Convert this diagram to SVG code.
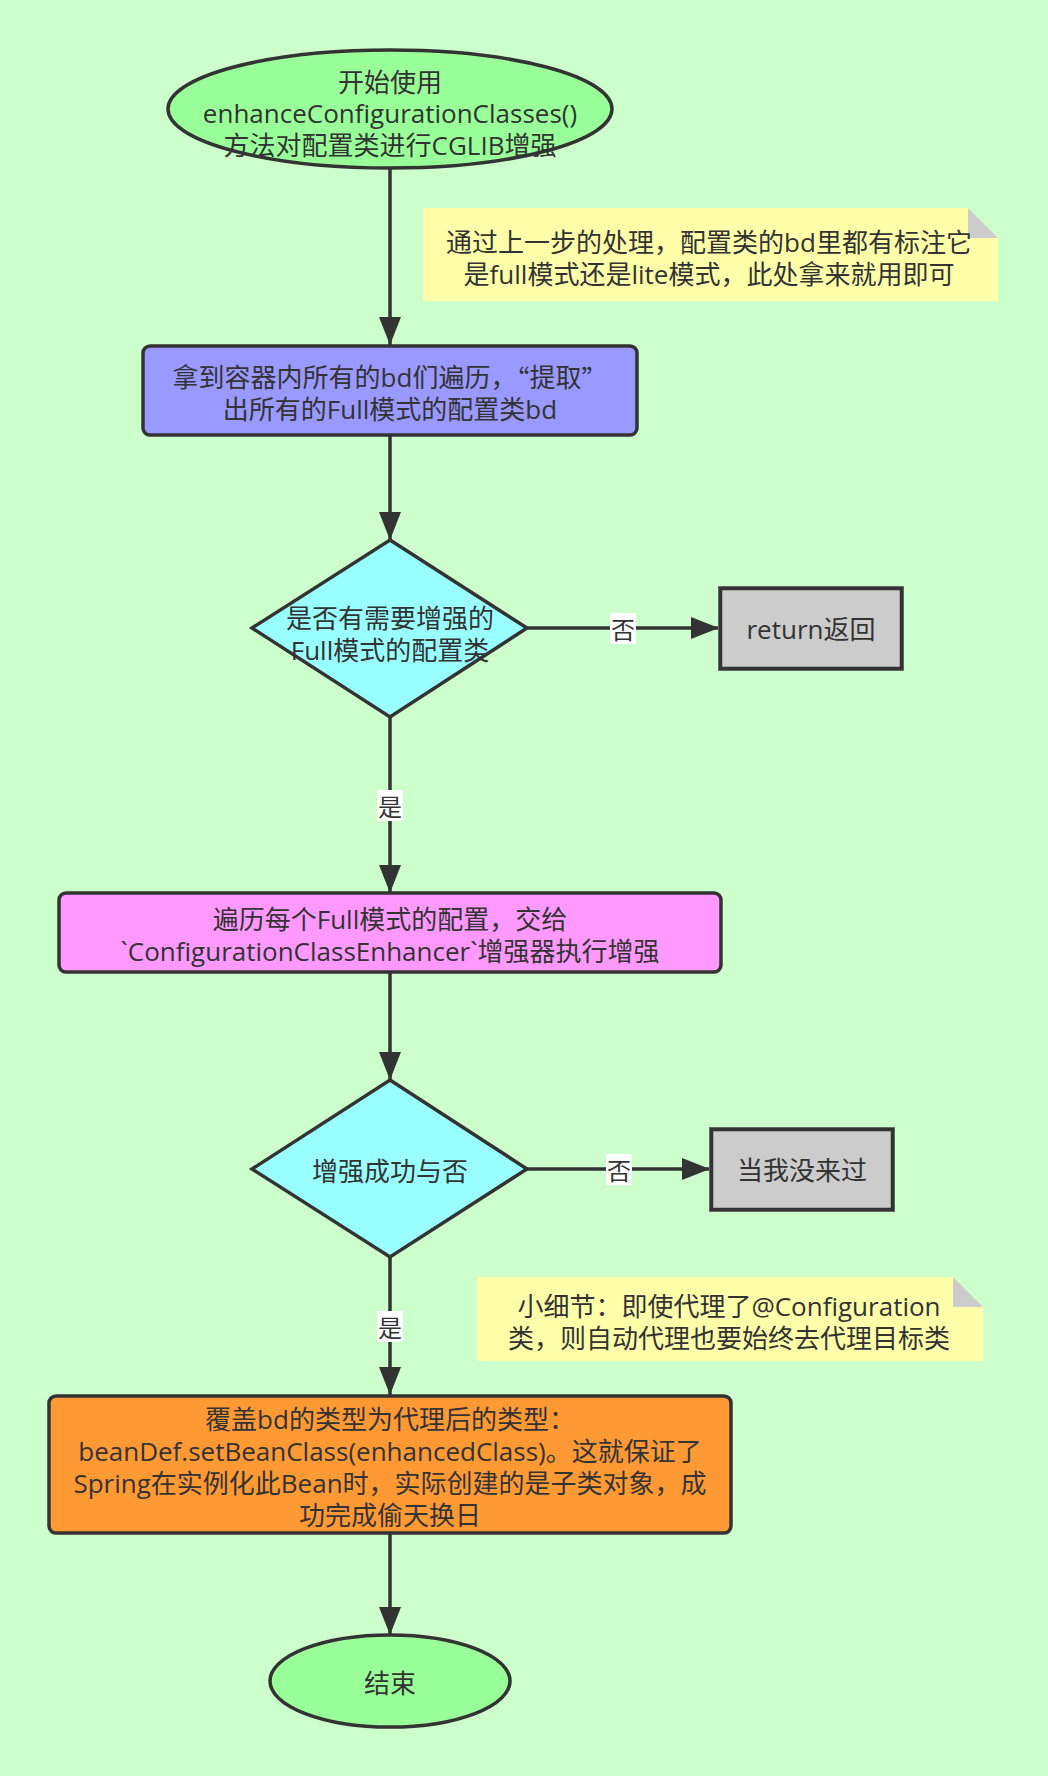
<svg xmlns="http://www.w3.org/2000/svg" width="1048" height="1776" viewBox="0 0 1048 1776">
<defs>
<marker id="arr" markerUnits="userSpaceOnUse" markerWidth="28" markerHeight="22" refX="28" refY="11" orient="auto">
<path d="M0,0 L28,11 L0,22 z" fill="#333333"/>
</marker>
<style>
text{font-family:"Open Sans","Noto Sans CJK SC",sans-serif;font-size:26px;fill:#333333;text-anchor:middle;dominant-baseline:central}
.cjk{font-family:"Noto Sans CJK SC",sans-serif}
.node{stroke:#333333;stroke-width:3.5}
.edge{stroke:#333333;stroke-width:3.5;fill:none;marker-end:url(#arr)}
.lbl{fill:#ffffff}
.lt{font-size:24px}
.outer{fill:none;stroke:#777777;stroke-width:1}
</style>
</defs>
<rect width="1048" height="1776" fill="#CCFFCC"/>

<g id="connectors">
<line class="edge" x1="390" y1="169" x2="390" y2="345"/>
<line class="edge" x1="390" y1="436" x2="390" y2="540"/>
<line class="edge" x1="527" y1="628" x2="719" y2="628"/>
<rect class="lbl" x="610" y="613" width="26" height="31"/>
<text class="lt" x="623" y="629">否</text>
<line class="edge" x1="390" y1="717" x2="390" y2="893"/>
<rect class="lbl" x="377" y="790" width="26" height="31"/>
<text class="lt" x="390" y="806">是</text>
<line class="edge" x1="390" y1="972" x2="390" y2="1080"/>
<line class="edge" x1="527" y1="1169" x2="710" y2="1169"/>
<rect class="lbl" x="606" y="1154" width="26" height="31"/>
<text class="lt" x="619" y="1170">否</text>
<line class="edge" x1="390" y1="1257" x2="390" y2="1395"/>
<rect class="lbl" x="377" y="1311" width="26" height="31"/>
<text class="lt" x="390" y="1327">是</text>
<line class="edge" x1="390" y1="1533" x2="390" y2="1635"/>
</g>

<g id="start">
<ellipse class="node" cx="390" cy="109" rx="222" ry="59" fill="#99FF99"/>
<text x="390" y="82">开始使用</text>
<text x="390" y="113">enhanceConfigurationClasses()</text>
<text x="390" y="145">方法对配置类进行CGLIB增强</text>
</g>

<g id="note1">
<path d="M423,208 L968,208 L998,238 L998,301 L423,301 z" fill="#FFFFAA"/>
<path d="M968,208 L998,238 L968,238 z" fill="#CCCCCC"/>
<text x="709" y="242">通过上一步的处理，配置类的bd里都有标注它</text>
<text x="709" y="274">是full模式还是lite模式，此处拿来就用即可</text>
</g>

<g id="collect">
<rect class="node" x="143" y="346" width="494" height="89" rx="7" fill="#9999FF"/>
<text x="390" y="377">拿到容器内所有的bd们遍历，<tspan class="cjk">“</tspan>提取<tspan class="cjk">”</tspan></text>
<text x="390" y="409">出所有的Full模式的配置类bd</text>
</g>

<g id="decision1">
<polygon class="node" points="390,540 527,628 390,717 252,628" fill="#99FFFF"/>
<text x="390" y="618">是否有需要增强的</text>
<text x="390" y="650">Full模式的配置类</text>
</g>

<g id="return">
<rect class="outer" x="718.5" y="586.5" width="185" height="84"/>
<rect class="node" x="720.5" y="588.5" width="181" height="80" fill="#CCCCCC"/>
<text x="811" y="629">return返回</text>
</g>

<g id="enhance">
<rect class="node" x="59" y="893" width="662" height="79" rx="7" fill="#FF99FF"/>
<text x="390" y="919">遍历每个Full模式的配置，交给</text>
<text x="390" y="951">`ConfigurationClassEnhancer`增强器执行增强</text>
</g>

<g id="decision2">
<polygon class="node" points="390,1080 527,1169 390,1257 252,1169" fill="#99FFFF"/>
<text x="390" y="1171">增强成功与否</text>
</g>

<g id="ignore">
<rect class="outer" x="709.5" y="1127.5" width="185" height="84"/>
<rect class="node" x="711.5" y="1129.5" width="181" height="80" fill="#CCCCCC"/>
<text x="802" y="1170">当我没来过</text>
</g>

<g id="note2">
<path d="M477,1277 L953,1277 L983,1307 L983,1361 L477,1361 z" fill="#FFFFAA"/>
<path d="M953,1277 L983,1307 L953,1307 z" fill="#CCCCCC"/>
<text x="729" y="1306">小细节：即使代理了@Configuration</text>
<text x="729" y="1338">类，则自动代理也要始终去代理目标类</text>
</g>

<g id="override">
<rect class="node" x="49" y="1396" width="682" height="137" rx="7" fill="#FF9933"/>
<text x="390" y="1419">覆盖bd的类型为代理后的类型：</text>
<text x="390" y="1451">beanDef.setBeanClass(enhancedClass)。这就保证了</text>
<text x="390" y="1483">Spring在实例化此Bean时，实际创建的是子类对象，成</text>
<text x="390" y="1515">功完成偷天换日</text>
</g>

<g id="end">
<ellipse class="node" cx="390" cy="1681" rx="120" ry="46" fill="#99FF99"/>
<text x="390" y="1683">结束</text>
</g>
</svg>
